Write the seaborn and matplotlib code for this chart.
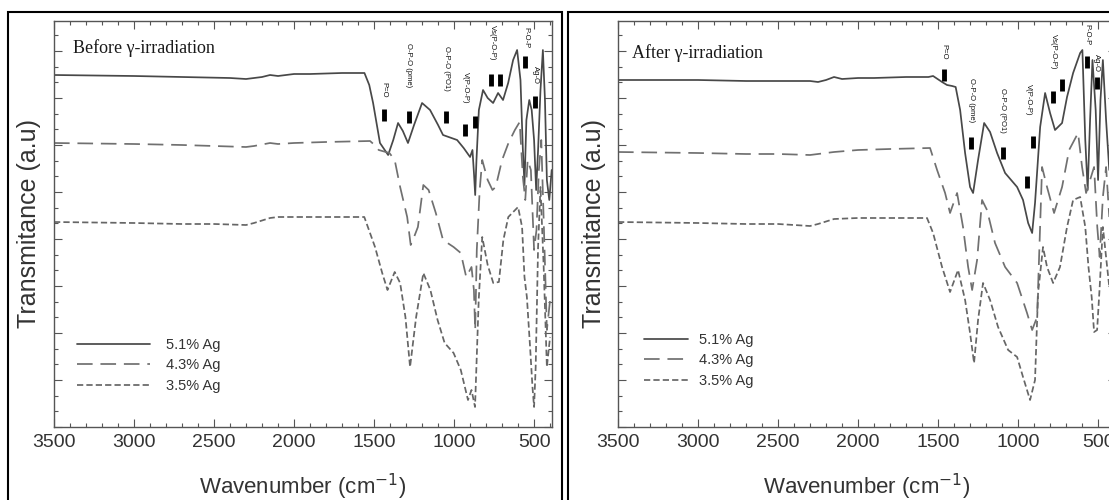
import matplotlib
matplotlib.use("Agg")
import matplotlib.pyplot as plt
from matplotlib.patches import Rectangle
from matplotlib.ticker import MultipleLocator
import pandas as pd
import seaborn as sns

SAMPLES = ["5.1% Ag", "4.3% Ag", "3.5% Ag"]
PANEL_TITLES = ["Before γ-irradiation", "After γ-irradiation"]

# ---- Before irradiation (transmittance in a.u.) ----
BEFORE_51_WN = [3500, 3000, 2700, 2400, 2300, 2250, 2200, 2150, 2100, 2000, 1900, 1700, 1560, 1530,
                1506, 1463, 1412, 1380, 1350, 1320, 1288, 1250, 1200, 1150, 1100, 1069, 981, 940,
                900, 885, 875, 868, 860, 845, 819, 790, 756, 725, 694, 662, 631, 606, 585, 570,
                560, 548, 530, 515, 500, 487, 475, 460, 445, 432, 420, 405, 390]
BEFORE_51_T = [352, 351, 350, 349, 348, 349, 350, 352, 351, 353, 353, 354, 354, 342,
               324, 284, 272, 287, 304, 296, 284, 302, 324, 317, 302, 292, 287, 279,
               270, 277, 252, 232, 267, 317, 337, 329, 324, 334, 327, 344, 367, 377, 347, 277,
               242, 307, 327, 317, 287, 237, 277, 337, 377, 327, 247, 227, 257]

BEFORE_43_WN = [3500, 3000, 2700, 2500, 2300, 2250, 2150, 2100, 2000, 1800, 1525, 1490, 1471, 1404,
                1371, 1337, 1293, 1271, 1250, 1226, 1192, 1159, 1114, 1069, 1003, 958, 924, 891,
                876, 868, 858, 840, 824, 790, 760, 740, 700, 660, 620, 590, 570, 555, 540, 520,
                500, 485, 470, 455, 440, 420, 400]
BEFORE_43_T = [284, 283, 282, 281, 280, 281, 284, 283, 284, 285, 286, 281, 277, 274,
               267, 240, 210, 182, 190, 200, 242, 237, 214, 187, 180, 174, 150, 160,
               137, 97, 177, 237, 267, 247, 237, 240, 267, 284, 297, 305, 250, 227, 267, 257,
               177, 197, 257, 287, 207, 97, 127]

BEFORE_35_WN = [3500, 3000, 2700, 2500, 2300, 2250, 2150, 2100, 1900, 1700, 1561, 1494, 1449, 1416,
                1371, 1337, 1304, 1275, 1237, 1192, 1148, 1103, 1059, 1003, 958, 913, 891, 869,
                846, 824, 790, 755, 720, 692, 661, 600, 575, 560, 545, 525, 510, 500, 490, 475,
                460, 440, 420, 400]
BEFORE_35_T = [205, 204, 203, 203, 202, 204, 209, 210, 210, 210, 210, 180, 154, 137,
               155, 144, 110, 60, 110, 154, 137, 107, 84, 74, 57, 27, 37, 20,
               127, 190, 162, 144, 145, 187, 210, 220, 200, 150, 130, 80, 40, 20, 60, 180,
               240, 160, 60, 90]

# ---- After irradiation ----
AFTER_51_WN = [3500, 3000, 2700, 2400, 2300, 2250, 2200, 2150, 2100, 2000, 1900, 1700, 1560, 1531,
               1475, 1444, 1412, 1390, 1362, 1331, 1300, 1281, 1250, 1212, 1175, 1131, 1081, 1006,
               969, 937, 912, 894, 862, 831, 800, 769, 725, 694, 656, 612, 598, 580, 565, 550,
               535, 515, 500, 485, 470, 450, 430]
AFTER_51_T = [347, 347, 346, 346, 346, 345, 347, 350, 348, 349, 349, 350, 350, 351,
              345, 342, 341, 340, 317, 274, 240, 234, 267, 304, 295, 274, 254, 240,
              227, 204, 194, 224, 300, 334, 314, 297, 304, 330, 354, 374, 377, 287, 237, 307,
              367, 317, 247, 327, 367, 307, 257]

AFTER_43_WN = [3500, 3000, 2700, 2500, 2300, 2250, 2150, 2000, 1800, 1550, 1506, 1456, 1425, 1381,
               1344, 1312, 1287, 1256, 1225, 1194, 1144, 1081, 1006, 944, 912, 881, 850, 819,
               775, 725, 681, 625, 600, 575, 550, 525, 505, 490, 470, 450, 430]
AFTER_43_T = [275, 274, 273, 273, 272, 273, 275, 277, 278, 279, 257, 234, 214, 234,
              200, 160, 137, 167, 227, 217, 184, 160, 144, 114, 97, 110, 260, 240,
              214, 240, 277, 294, 260, 234, 247, 260, 200, 170, 230, 260, 210]

AFTER_35_WN = [3500, 3000, 2700, 2500, 2300, 2250, 2150, 2000, 1800, 1569, 1531, 1475, 1425, 1375,
               1331, 1300, 1275, 1250, 1219, 1175, 1125, 1062, 1006, 969, 925, 894, 875, 844,
               819, 781, 738, 694, 656, 612, 580, 560, 540, 525, 506, 490, 470, 450, 430]
AFTER_35_T = [205, 204, 203, 203, 201, 203, 208, 209, 209, 209, 194, 160, 135, 157,
              127, 94, 64, 107, 144, 127, 100, 77, 70, 50, 27, 47, 134, 180,
              160, 144, 160, 200, 227, 230, 200, 160, 130, 95, 97, 140, 200, 170, 140]

# ---- band assignments: (label, text wn, text T, marker wns, marker Ts) ----
BEFORE_BANDS = [
    ("P=O", 1440, 337, [1437], [312]),
    ("O-P-O (pme)", 1285, 362, [1281], [310]),
    ("O-P-O (PO1)", 1050, 359, [1050], [310]),
    ("V(P-O-P)", 931, 339, [931, 869], [297, 305]),
    ("Vs(P-O-P)", 762, 384, [769, 712], [347, 347]),
    ("P-O-P", 553, 389, [556], [365]),
    ("Ag-O", 494, 352, [494], [325]),
]
AFTER_BANDS = [
    ("P=O", 1466, 375, [1462], [352]),
    ("O-P-O (pme)", 1294, 327, [1294], [284]),
    ("O-P-O (PO1)", 1100, 317, [1094], [274]),
    ("V(P-O-P)", 937, 327, [906, 944], [285, 245]),
    ("Vs(P-O-P)", 781, 375, [781, 725], [330, 342]),
    ("P-O-P", 569, 392, [569], [365]),
    ("Ag-O", 510, 364, [506], [344]),
]

PALETTE = {"5.1% Ag": "#484848", "4.3% Ag": "#707070", "3.5% Ag": "#666666"}
DASHES = {"5.1% Ag": "", "4.3% Ag": (9, 4.5), "3.5% Ag": (3.6, 1.8)}


def build_frame(series: list[tuple[list[int], list[int]]]) -> pd.DataFrame:
    parts = []
    for name, (wn, t) in zip(SAMPLES, series):
        parts.append(pd.DataFrame({"wavenumber": wn, "transmittance": t, "sample": name}))
    return pd.concat(parts, ignore_index=True)


def draw_panel(ax, df, title, bands, legend_xy, handle_len, text_pad, title_xy):
    sns.lineplot(
        data=df, x="wavenumber", y="transmittance", hue="sample", style="sample",
        palette=PALETTE, dashes=DASHES, estimator=None, sort=False, lw=1.25,
        legend=False, ax=ax,
    )
    ax.set_xlim(3500, 388)
    ax.set_ylim(0, 406)
    ax.xaxis.set_major_locator(MultipleLocator(500))
    ax.xaxis.set_minor_locator(MultipleLocator(100))
    ax.yaxis.set_major_locator(MultipleLocator(47))
    ax.yaxis.set_minor_locator(MultipleLocator(47 / 3))
    ax.tick_params(which="both", direction="in", top=True, right=True, color="#555555",
                   width=0.8, labelleft=False, labelsize=14, labelcolor="#333333", pad=5)
    ax.tick_params(which="major", length=6)
    ax.tick_params(which="minor", length=3)
    for sp in ax.spines.values():
        sp.set_color("#555555")
        sp.set_linewidth(1.0)
    ax.set_xlabel("Wavenumber (cm$^{-1}$)", fontsize=16, color="#333333", labelpad=15)
    ax.set_ylabel("Transmitance (a.u)", fontsize=18, color="#333333", labelpad=9)

    ax.text(title_xy[0], title_xy[1], title, transform=ax.transAxes, family="Liberation Serif",
            fontsize=13, color="#1a1a1a", va="center", ha="left")

    for label, tx, ty, mx, my in bands:
        ax.text(tx, ty, label, rotation=-90, fontsize=5.5, color="#111111", ha="center", va="center")
        ax.plot(mx, my, ls="none", marker="|", ms=8, mew=3.5, color="black")

    handles = ax.get_lines()[:3]
    ax.legend(handles, SAMPLES, loc="upper left", bbox_to_anchor=legend_xy, frameon=False,
              borderpad=0, borderaxespad=0, handlelength=handle_len, handletextpad=text_pad,
              labelspacing=0.45, fontsize=10.5, labelcolor="#333333")


sns.set_style("ticks")
plt.rcParams["font.family"] = ["Liberation Sans", "DejaVu Sans"]

fig = plt.figure(figsize=(11.09, 5), dpi=100)
W, H = 1109, 500
ax_left = fig.add_axes([54 / W, 1 - 427 / H, 498 / W, 406 / H])
ax_right = fig.add_axes([618 / W, 1 - 427 / H, 498 / W, 406 / H])

before = build_frame([(BEFORE_51_WN, BEFORE_51_T), (BEFORE_43_WN, BEFORE_43_T),
                      (BEFORE_35_WN, BEFORE_35_T)])
after = build_frame([(AFTER_51_WN, AFTER_51_T), (AFTER_43_WN, AFTER_43_T),
                     (AFTER_35_WN, AFTER_35_T)])

draw_panel(ax_left, before, PANEL_TITLES[0], BEFORE_BANDS, (0.046, 0.22), 5.0, 1.1, (0.038, 0.933))
draw_panel(ax_right, after, PANEL_TITLES[1], AFTER_BANDS, (0.052, 0.232), 3.0, 0.75, (0.028, 0.921))

# panel frames
for x0 in (8, 568):
    fig.add_artist(Rectangle((x0 / W, -0.02), 554 / W, 1 - 12 / H + 0.02, transform=fig.transFigure,
                             fill=False, edgecolor="black", linewidth=1.5))

fig.savefig("out.png", dpi=100)
